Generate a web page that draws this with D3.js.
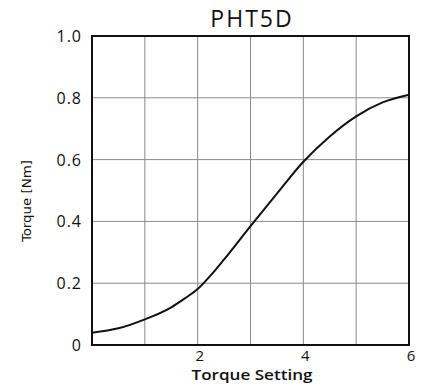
<!DOCTYPE html>
<html><head><meta charset="utf-8">
<script src="https://cdn.jsdelivr.net/npm/d3@7"></script>
<style>body{margin:0;background:#fff}</style>
</head><body>
<script>
const title = "PHT5D";
const xLabel = "Torque Setting";
const yLabel = "Torque [Nm]";
const settings = [0, 0.5, 1, 1.5, 1.75, 2, 2.25, 2.5, 3, 3.5, 4, 4.5, 5, 5.5, 6];
const torque = [0.04, 0.054, 0.083, 0.122, 0.15, 0.181, 0.226, 0.277, 0.385, 0.49, 0.593, 0.675, 0.74, 0.785, 0.81];
const xTickLabels = [2, 4, 6];
const yTicks = [0, 0.2, 0.4, 0.6, 0.8, 1.0];
const yTickLabels = ["0", "0.2", "0.4", "0.6", "0.8", "1.0"];
const xGrid = [1, 2, 3, 4, 5];

const W = 429, H = 387;
const m = {left: 92, right: 20, top: 36, bottom: 42};
const svg = d3.select("body").append("svg").attr("width", W).attr("height", H);
const x = d3.scaleLinear().domain([0, 6]).range([m.left, W - m.right]);
const y = d3.scaleLinear().domain([0, 1]).range([H - m.bottom, m.top]);

const font = "'Open Sans', sans-serif";

// gridlines
svg.append("g").selectAll("line").data(xGrid).join("line")
  .attr("x1", d => x(d)).attr("x2", d => x(d))
  .attr("y1", y(0)).attr("y2", y(1))
  .attr("stroke", "#8a8a8a").attr("stroke-width", 1);
svg.append("g").selectAll("line").data(yTicks.slice(1, -1)).join("line")
  .attr("x1", x(0)).attr("x2", x(6))
  .attr("y1", d => y(d)).attr("y2", d => y(d))
  .attr("stroke", "#8a8a8a").attr("stroke-width", 1);

// curve
svg.append("path").datum(settings.map((s, i) => [s, torque[i]]))
  .attr("d", d3.line().x(d => x(d[0])).y(d => y(d[1])).curve(d3.curveMonotoneX))
  .attr("fill", "none").attr("stroke", "#111").attr("stroke-width", 2);

// frame
svg.append("rect").attr("x", x(0)).attr("y", y(1))
  .attr("width", x(6) - x(0)).attr("height", y(0) - y(1))
  .attr("fill", "none").attr("stroke", "#111").attr("stroke-width", 2);

// y tick labels
svg.append("g").selectAll("text").data(yTicks).join("text")
  .attr("x", x(0) - 10).attr("y", d => y(d) + 6)
  .attr("text-anchor", "end")
  .attr("font-family", font).attr("font-size", 16).attr("letter-spacing", 1)
  .attr("fill", "#111")
  .text((d, i) => yTickLabels[i]);

// x tick labels
svg.append("g").selectAll("text").data(xTickLabels).join("text")
  .attr("x", d => x(d) + 2).attr("y", 361)
  .attr("text-anchor", "middle")
  .attr("font-family", font).attr("font-size", 15)
  .attr("fill", "#111")
  .text(d => d);

// title
svg.append("text").attr("x", 252).attr("y", 27)
  .attr("text-anchor", "middle")
  .attr("font-family", font).attr("font-size", 23).attr("letter-spacing", 2)
  .attr("fill", "#111").text(title);

// x label
svg.append("text").attr("x", 252).attr("y", 380)
  .attr("text-anchor", "middle")
  .attr("font-family", font).attr("font-weight", 600).attr("font-size", 15)
  .attr("textLength", 121).attr("lengthAdjust", "spacingAndGlyphs")
  .attr("fill", "#111").text(xLabel);

// y label
svg.append("text").attr("transform", "translate(31,201) rotate(-90)")
  .attr("text-anchor", "middle")
  .attr("font-family", "'DejaVu Sans Condensed', 'Liberation Sans Narrow', sans-serif").attr("font-size", 12)
  .attr("textLength", 82).attr("lengthAdjust", "spacingAndGlyphs")
  .attr("fill", "#111").text(yLabel);
</script>
</body></html>
